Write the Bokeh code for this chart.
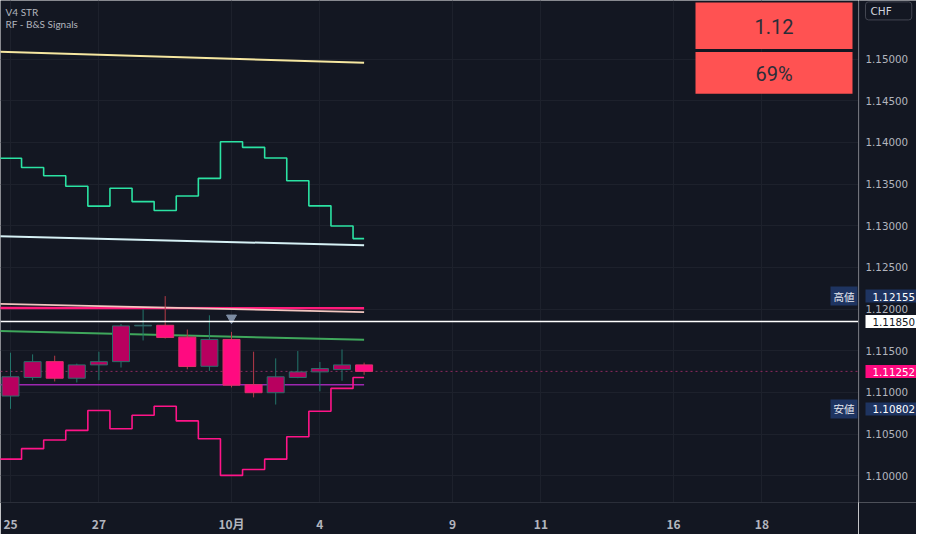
from bokeh.plotting import figure
from bokeh.layouts import row
from bokeh.models import (Range1d, LinearAxis, FixedTicker, Span, Label, BoxAnnotation,
                          ColumnDataSource, Grid)
from bokeh.core.properties import value
from bokeh.embed import file_html
from bokeh.resources import INLINE

# ---------------- data ----------------
bar_idx = list(range(17))
opens  = [1.10956, 1.11179, 1.11369, 1.11170, 1.11330, 1.11369, 1.11798, 1.11805, 1.11663,
          1.11313, 1.11635, 1.11092, 1.10996, 1.11179, 1.11246, 1.11274, 1.11330]
highs  = [1.11476, 1.11456, 1.11440, 1.11345, 1.11488, 1.11821, 1.11996, 1.12155, 1.11754,
          1.11925, 1.11726, 1.11488, 1.11408, 1.11496, 1.11365, 1.11515, 1.11357]
lows   = [1.10802, 1.11146, 1.11131, 1.11119, 1.11146, 1.11298, 1.11623, 1.11646, 1.11277,
          1.11258, 1.11060, 1.10940, 1.10854, 1.11170, 1.11012, 1.11139, 1.11211]
closes = [1.11187, 1.11369, 1.11170, 1.11330, 1.11369, 1.11798, 1.11805, 1.11658, 1.11310,
          1.11635, 1.11087, 1.10996, 1.11187, 1.11246, 1.11286, 1.11330, 1.11252]

band_idx = list(range(-1, 17))
upper_band = [1.13810, 1.13810, 1.13699, 1.13599, 1.13473, 1.13235, 1.13449, 1.13289, 1.13182,
              1.13357, 1.13568, 1.14008, 1.13940, 1.13813, 1.13539, 1.13238, 1.12996, 1.12845]
lower_band = [1.10199, 1.10199, 1.10325, 1.10429, 1.10544, 1.10782, 1.10563, 1.10726, 1.10833,
              1.10658, 1.10444, 1.10004, 1.10075, 1.10199, 1.10468, 1.10774, 1.11048, 1.11179]

line_idx = [-1, 16]
yellow_line = [1.15092, 1.14956]
cyan_line = [1.12876, 1.12765]
peach_line = [1.12065, 1.11964]
pink_line = [1.12012, 1.12010]
green_line = [1.11740, 1.11631]
purple_line = [1.11091, 1.11091]

signal_idx = [10]
signal_price = [1.11893]

high_price = 1.12155
low_price = 1.10802
line_price = 1.11850
last_price = 1.11252

x_tick_pos = [0, 4, 10, 14, 20, 24, 30, 34]
x_tick_labels = ["25", "27", "10月", "4", "9", "11", "16", "18"]
y_ticks = [1.095, 1.100, 1.105, 1.110, 1.115, 1.120, 1.125, 1.130, 1.135, 1.140, 1.145, 1.150]

box_texts = ["1.12", "69%"]

# ---------------- layout helpers (reference pixel frame -> data) ----------------
def px_to_x(px):
    return (px - 10.0) / 22.1

def px_to_y(py):
    return 1.15 - (py - 59.0) / 8400.0

BG = "#131722"
GRID = "#1D212C"
SEP = "#2A2E39"
AXIS_TXT = "#B2B5BE"
NUM_FONT = "DejaVu Sans"
CJK_FONT = "Noto Sans CJK JP"
NAVY = "#1E3461"

MAIN_W, SCALE_W, H, BOTTOM = 858, 58, 534, 28

y_range = Range1d(px_to_y(H - BOTTOM), px_to_y(0))

p = figure(width=MAIN_W, height=H,
           x_range=Range1d(px_to_x(0), px_to_x(MAIN_W)), y_range=y_range,
           x_axis_type=None, y_axis_type=None,
           output_backend="svg", toolbar_location=None,
           min_border_left=0, min_border_top=0, min_border_right=0, min_border_bottom=BOTTOM,
           background_fill_color=BG, border_fill_color=BG, outline_line_color=None)

# grids
p.add_layout(Grid(dimension=0, ticker=FixedTicker(ticks=x_tick_pos), grid_line_color=GRID))
p.add_layout(Grid(dimension=1, ticker=FixedTicker(ticks=y_ticks), grid_line_color=GRID))

# time axis
xaxis = LinearAxis(ticker=FixedTicker(ticks=x_tick_pos),
                   major_label_overrides={t: l for t, l in zip(x_tick_pos, x_tick_labels)},
                   axis_line_color=SEP, major_tick_line_color=None, minor_tick_line_color=None,
                   major_label_text_color=AXIS_TXT, major_label_text_font=CJK_FONT,
                   major_label_text_font_size="12px", major_label_text_font_style="bold",
                   major_label_standoff=6)
p.add_layout(xaxis, "below")

# indicator lines
p.line(line_idx, yellow_line, line_color="#F6E7A1", line_width=2)
p.step(band_idx, upper_band, mode="center", line_color="#2BE3A3", line_width=1.6)
p.line(line_idx, cyan_line, line_color="#D6F1F5", line_width=2)
p.line(line_idx, pink_line, line_color="#FF1A7A", line_width=2.4)
p.line(line_idx, peach_line, line_color="#F2C7C0", line_width=1.8)
p.line(line_idx, green_line, line_color="#3FA85C", line_width=2)
p.line(line_idx, purple_line, line_color="#9C27B0", line_width=1.6)
p.step(band_idx, lower_band, mode="center", line_color="#FF1488", line_width=1.6)

# price lines
p.add_layout(Span(location=last_price, dimension="width", line_color="#8E2A5E",
                  line_dash="2 3", line_width=1, level="underlay"))
p.add_layout(Span(location=line_price, dimension="width", line_color="#FFFFFF", line_width=1.5))

# candles
up = [c >= o for o, c in zip(opens, closes)]
src = ColumnDataSource(dict(
    x=bar_idx, o=opens, h=highs, l=lows, c=closes,
    top=[max(o, c) for o, c in zip(opens, closes)],
    bot=[min(o, c) for o, c in zip(opens, closes)],
    fill=["#B8005F" if u else "#FF0A80" for u in up],
    edge=["#2B6D6A" if u else "#E0306A" for u in up],
    wick=["#23756B" if u else "#B53A48" for u in up],
))
p.segment(x0="x", y0="h", x1="x", y1="l", source=src, line_color="wick", line_width=1)
p.vbar(x="x", top="top", bottom="bot", width=0.77, source=src,
       fill_color="fill", line_color="edge", line_width=1)

p.scatter(signal_idx, signal_price, marker="inverted_triangle", size=10,
          fill_color="#7D8CA3", line_color="#7D8CA3")

# legend texts
for txt, py in [("V4 STR", 12), ("RF - B&S Signals", 24)]:
    p.add_layout(Label(x=px_to_x(5), y=px_to_y(py), text=txt, text_baseline="middle",
                       text_color=AXIS_TXT, text_font="Lato", text_font_size="10px"))

# red info boxes
for txt, (t, b) in zip(box_texts, [(2, 49), (52, 94)]):
    p.add_layout(BoxAnnotation(left=px_to_x(695), right=px_to_x(852), top=px_to_y(t), bottom=px_to_y(b),
                               fill_color="#FF5252", fill_alpha=1, line_color=None))
    p.add_layout(Label(x=px_to_x(773.5), y=px_to_y((t + b) / 2 + 1), text=txt, text_align="center",
                       text_baseline="middle", text_color="#2A2E39", text_font="Roboto",
                       text_font_size="20px"))

# high / low captions
for price, txt in [(high_price, "高値"), (low_price, "安値")]:
    p.add_layout(Label(x=px_to_x(830), y=price, text=txt, text_baseline="middle",
                       text_color="#E8EAF0", text_font=CJK_FONT, text_font_size="10.5px",
                       background_fill_color=NAVY, padding=dict(left=3, right=3, top=2, bottom=2)))

# ---------------- price scale panel (shares the price range) ----------------
ps = figure(width=SCALE_W, height=H, x_range=Range1d(0, SCALE_W), y_range=y_range,
            x_axis_type=None, y_axis_type=None,
            output_backend="svg", toolbar_location=None,
            min_border_left=0, min_border_top=0, min_border_right=0, min_border_bottom=BOTTOM,
            background_fill_color=BG, border_fill_color=BG, outline_line_color=None)
ps.add_layout(Span(location=0.5, dimension="height", line_color=SEP, line_width=1))

ps.text(x=[7] * len(y_ticks), y=y_ticks, text=[f"{v:.5f}" for v in y_ticks],
        text_baseline="middle", text_color=AXIS_TXT, text_font=value(NUM_FONT),
        text_font_size="10.3px")

ps.add_layout(Label(x=7, y=px_to_y(10.5), text="CHF", text_baseline="middle",
                    text_color="#D1D4DC", text_font=NUM_FONT, text_font_size="10.5px",
                    background_fill_color=BG, border_line_color="#434651", border_radius=3,
                    padding=dict(left=5, right=20, top=3, bottom=3)))

tags = [(high_price, NAVY, "#FFFFFF"),
        (line_price, "#FFFFFF", "#131722"),
        (last_price, "#FF0A80", "#FFFFFF"),
        (low_price, NAVY, "#FFFFFF")]
for price, bg, fg in tags:
    ps.add_layout(Label(x=7, y=price, text=f"{price:.5f}", text_baseline="middle",
                        text_color=fg, text_font=NUM_FONT, text_font_size="10.3px",
                        background_fill_color=bg, padding=dict(left=7, right=10, top=3, bottom=2)))

layout = row(p, ps, spacing=0)
open("out.html", "w").write(file_html(layout, INLINE))
